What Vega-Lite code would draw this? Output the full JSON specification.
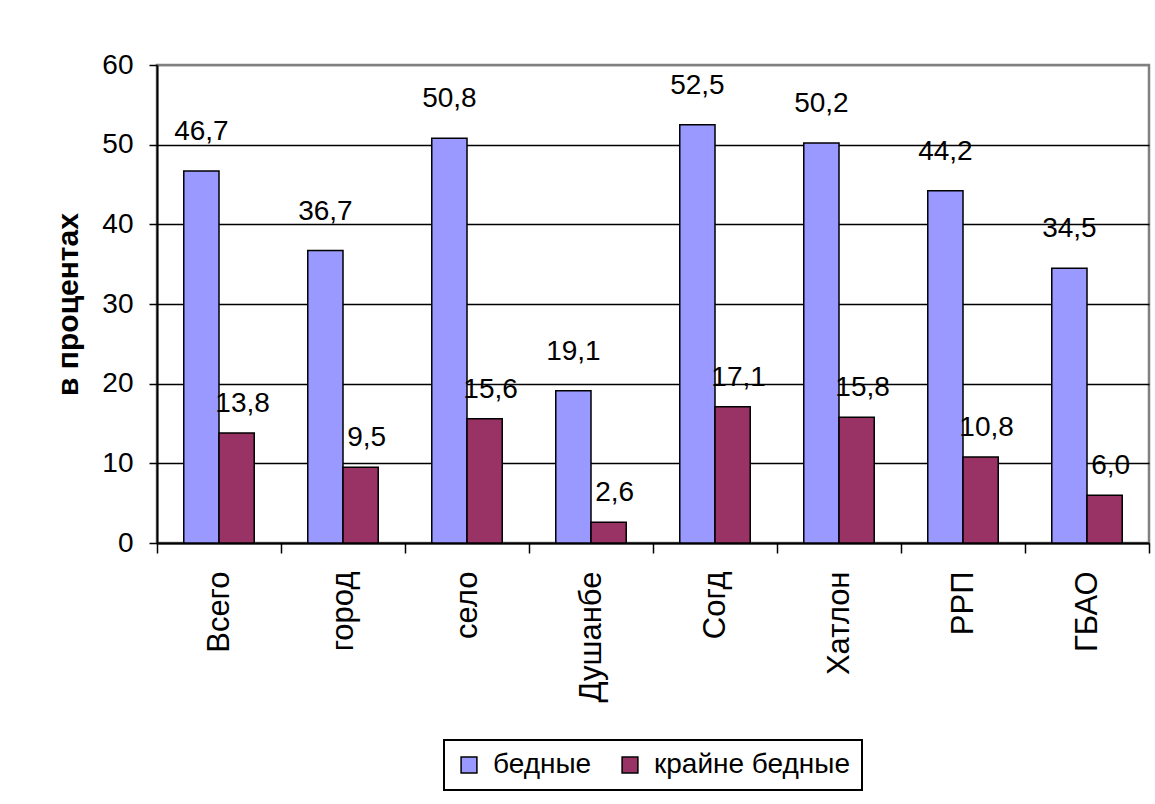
{
  "$schema": "https://vega.github.io/schema/vega-lite/v6.json",
  "width": 992,
  "height": 478,
  "autosize": {"type": "none"},
  "padding": {"left": 157, "top": 65, "right": 6, "bottom": 261},
  "background": "white",
  "config": {
    "locale": {
      "number": {"decimal": ",", "thousands": " ", "grouping": [3], "currency": ["", ""]}
    },
    "font": "Liberation Sans",
    "view": {"stroke": "#808080", "strokeWidth": 2.5},
    "text": {"font": "Liberation Sans", "fontSize": 28, "color": "black", "baseline": "middle"},
    "legend": {
      "orient": "none",
      "legendX": 287,
      "legendY": 675,
      "direction": "horizontal",
      "strokeColor": "black",
      "strokeWidth": 2,
      "padding": 11,
      "symbolType": "square",
      "symbolSize": 250,
      "symbolStrokeColor": "black",
      "symbolStrokeWidth": 1.5,
      "labelFont": "Liberation Sans",
      "labelFontSize": 28,
      "labelColor": "black",
      "labelLimit": 0,
      "labelOffset": 10,
      "columnPadding": 24
    }
  },
  "data": {
    "values": [
      {"region": "Всего", "group": "бедные", "pct": 46.7},
      {"region": "Всего", "group": "крайне бедные", "pct": 13.8},
      {"region": "город", "group": "бедные", "pct": 36.7},
      {"region": "город", "group": "крайне бедные", "pct": 9.5},
      {"region": "село", "group": "бедные", "pct": 50.8},
      {"region": "село", "group": "крайне бедные", "pct": 15.6},
      {"region": "Душанбе", "group": "бедные", "pct": 19.1},
      {"region": "Душанбе", "group": "крайне бедные", "pct": 2.6},
      {"region": "Согд", "group": "бедные", "pct": 52.5},
      {"region": "Согд", "group": "крайне бедные", "pct": 17.1},
      {"region": "Хатлон", "group": "бедные", "pct": 50.2},
      {"region": "Хатлон", "group": "крайне бедные", "pct": 15.8},
      {"region": "РРП", "group": "бедные", "pct": 44.2},
      {"region": "РРП", "group": "крайне бедные", "pct": 10.8},
      {"region": "ГБАО", "group": "бедные", "pct": 34.5},
      {"region": "ГБАО", "group": "крайне бедные", "pct": 6.0}
    ]
  },
  "encoding": {
    "x": {
      "field": "region",
      "type": "nominal",
      "sort": null,
      "scale": {"paddingInner": 0, "paddingOuter": 0},
      "axis": {
        "title": null,
        "tickBand": "extent",
        "tickSize": 10,
        "tickWidth": 1.5,
        "tickColor": "black",
        "domainColor": "black",
        "domainWidth": 2,
        "labelAngle": -90,
        "labelAlign": "right",
        "labelBaseline": "middle",
        "labelPadding": 18,
        "labelFont": "Liberation Sans",
        "labelFontSize": 31,
        "labelColor": "black",
        "grid": false
      }
    },
    "xOffset": {
      "field": "group",
      "type": "nominal",
      "sort": ["бедные", "крайне бедные"],
      "scale": {"paddingInner": 0, "paddingOuter": 0.76}
    },
    "y": {
      "field": "pct",
      "type": "quantitative",
      "scale": {"domain": [0, 60], "nice": false},
      "axis": {
        "title": "в процентах",
        "titleFont": "Liberation Sans",
        "titleFontSize": 30,
        "titleFontWeight": "bold",
        "titleColor": "black",
        "titlePadding": 18,
        "values": [0, 10, 20, 30, 40, 50, 60],
        "tickSize": 8,
        "tickWidth": 1.5,
        "tickColor": "black",
        "domainColor": "black",
        "domainWidth": 2,
        "labelFont": "Liberation Sans",
        "labelFontSize": 28,
        "labelColor": "black",
        "labelPadding": 16,
        "grid": true,
        "gridColor": {"condition": {"test": "datum.value === 60", "value": "#808080"}, "value": "black"},
        "gridWidth": 1.5,
        "gridOpacity": 1
      }
    }
  },
  "layer": [
    {
      "mark": {"type": "bar", "stroke": "black", "strokeWidth": 1.5},
      "encoding": {
        "color": {
          "field": "group",
          "type": "nominal",
          "scale": {"domain": ["бедные", "крайне бедные"], "range": ["#9999FF", "#993366"]},
          "legend": {"title": null}
        }
      }
    },
    {
      "transform": [{"filter": "datum.group === 'бедные'"}],
      "mark": {"type": "text", "dy": -39},
      "encoding": {"text": {"field": "pct", "type": "quantitative", "format": ".1f"}}
    },
    {
      "transform": [{"filter": "datum.group === 'крайне бедные'"}],
      "mark": {"type": "text", "dy": -29, "dx": 6},
      "encoding": {"text": {"field": "pct", "type": "quantitative", "format": ".1f"}}
    }
  ]
}
